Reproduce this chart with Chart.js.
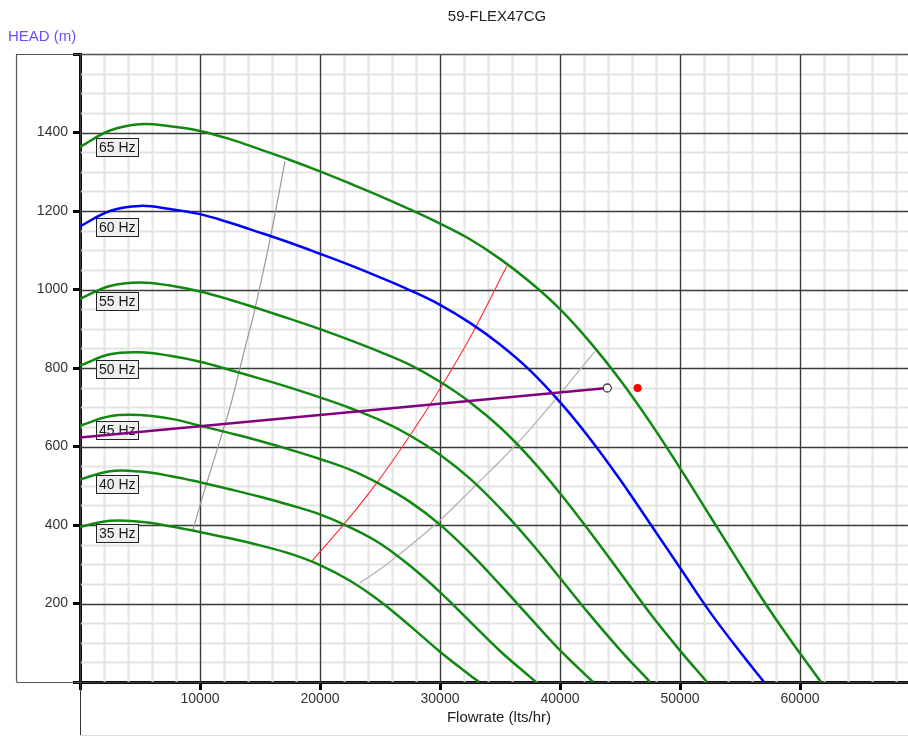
<!DOCTYPE html>
<html>
<head>
<meta charset="utf-8">
<script src="https://cdn.jsdelivr.net/npm/chart.js@4.4.0/dist/chart.umd.min.js"></script>
<style>
html,body{margin:0;padding:0;background:#ffffff;}
#wrap{width:908px;height:736px;position:relative;overflow:hidden;}
</style>
</head>
<body>
<div id="wrap"><canvas id="c" width="908" height="736"></canvas></div>
<script>
// ---------- texts ----------
const chartTitle = '59-FLEX47CG';
const yAxisTitle = 'HEAD (m)';
const xAxisTitle = 'Flowrate (lts/hr)';

// ---------- axis ticks ----------
const xTickLabels = [10000, 20000, 30000, 40000, 50000, 60000];
const yTickLabels = [200, 400, 600, 800, 1000, 1200, 1400];

// ---------- pump curves (flow lts/hr, head m) ----------
const hz35Q = [0, 2500, 5000, 7500, 10000, 12500, 15000, 17500, 20000, 22500, 25000, 27500, 30000, 32500, 33250];
const hz35H = [395, 411, 408, 397, 382, 366, 348, 327, 298, 258, 206, 143, 77, 17, 0];

const hz40Q = [0, 2500, 5000, 7500, 10000, 12500, 15000, 17500, 20000, 22500, 25000, 27500, 30000, 32500, 35000, 37500, 38000];
const hz40H = [516, 537, 536, 525, 509, 491, 472, 451, 427, 394, 353, 296, 229, 154, 79, 13, 0];

const hz45Q = [0, 2500, 5000, 7500, 10000, 12500, 15000, 17500, 20000, 22500, 25000, 27500, 30000, 32500, 35000, 37500, 40000, 42750];
const hz45H = [653, 677, 680, 671, 653, 634, 614, 592, 568, 541, 504, 459, 401, 329, 248, 164, 81, 0];

const hz50Q = [0, 2500, 5000, 7500, 10000, 12500, 15000, 17500, 20000, 22500, 25000, 27500, 30000, 32500, 35000, 37500, 40000, 42500, 45000, 47500];
const hz50H = [806, 835, 840, 831, 816, 795, 773, 750, 725, 698, 667, 628, 579, 518, 443, 358, 265, 171, 82, 0];

const hz55Q = [0, 2500, 5000, 7500, 10000, 12500, 15000, 17500, 20000, 22500, 25000, 27500, 30000, 32500, 35000, 37500, 40000, 42500, 45000, 47500, 50000, 52250];
const hz55H = [976, 1009, 1018, 1010, 995, 974, 950, 925, 899, 871, 841, 808, 765, 713, 649, 571, 481, 382, 279, 175, 80, 0];

const hz60Q = [0, 2500, 5000, 7500, 10000, 12500, 15000, 17500, 20000, 22500, 25000, 27500, 30000, 32500, 35000, 37500, 40000, 42500, 45000, 47500, 50000, 52500, 55000, 57000];
const hz60H = [1161, 1200, 1213, 1205, 1192, 1170, 1145, 1119, 1091, 1062, 1031, 998, 961, 915, 860, 794, 713, 620, 516, 404, 291, 178, 77, 0];

const hz65Q = [0, 2500, 5000, 7500, 10000, 12500, 15000, 17500, 20000, 22500, 25000, 27500, 30000, 32500, 35000, 37500, 40000, 42500, 45000, 47500, 50000, 52500, 55000, 57500, 60000, 61750];
const hz65H = [1363, 1405, 1421, 1416, 1404, 1383, 1357, 1330, 1301, 1270, 1238, 1204, 1168, 1128, 1078, 1019, 950, 866, 770, 662, 545, 423, 301, 182, 73, 0];

const hzLabels = ['35 Hz', '40 Hz', '45 Hz', '50 Hz', '55 Hz', '60 Hz', '65 Hz'];
// flow at which each label box is pinned to its curve
const labelFlow = 1300;

// ---------- system / limit lines ----------
const leftLimitQ = [9400, 10000, 11940, 12500, 13890, 14440, 15970, 17080];
const leftLimitH = [386, 450, 643, 700, 868, 933, 1148, 1327];

const redLineQ = [19300, 22000, 24700, 27500, 30000, 32500, 35560];
const redLineH = [307, 402, 506, 628, 747, 877, 1059];

const rightLimitQ = [23300, 25000, 26400, 30000, 33000, 36400, 39600, 42900];
const rightLimitH = [252, 287, 320, 412, 502, 607, 719, 842];

const dutyLineQ = [0, 43940];
const dutyLineH = [623, 749];

const dutyPointQ = [46470];
const dutyPointH = [749];

// ---------- helpers ----------
const pts = (q, h) => q.map((v, i) => ({x: v, y: h[i]}));
const FONT = '"Liberation Sans", Arial, sans-serif';
const GREEN = '#128812';

const pumpCurves = [
  {q: hz35Q, h: hz35H, c: GREEN},
  {q: hz40Q, h: hz40H, c: GREEN},
  {q: hz45Q, h: hz45H, c: GREEN},
  {q: hz50Q, h: hz50H, c: GREEN},
  {q: hz55Q, h: hz55H, c: GREEN},
  {q: hz60Q, h: hz60H, c: '#0000ff'},
  {q: hz65Q, h: hz65H, c: GREEN}
];

const datasets = [];
datasets.push({
  label: 'duty', data: pts(dutyLineQ, dutyLineH), showLine: true,
  borderColor: '#800080', borderWidth: 2.5,
  pointRadius: [0, 4], pointBackgroundColor: '#ffffff', pointBorderColor: '#444444', pointBorderWidth: 1.3,
  pointHoverRadius: 0
});
datasets.push({
  label: 'point', data: pts(dutyPointQ, dutyPointH), showLine: false,
  pointRadius: 4, pointBackgroundColor: '#ff0000', pointBorderColor: '#ff0000', pointBorderWidth: 0
});
pumpCurves.forEach((c, i) => datasets.push({
  label: hzLabels[i], data: pts(c.q, c.h), showLine: true,
  borderColor: c.c, borderWidth: 2.5, pointRadius: 0, tension: 0.4
}));
datasets.push({
  label: 'red', data: pts(redLineQ, redLineH), showLine: true,
  borderColor: '#ff2a2a', borderWidth: 1.1, pointRadius: 0, cubicInterpolationMode: 'monotone'
});
datasets.push({
  label: 'leftLimit', data: pts(leftLimitQ, leftLimitH), showLine: true,
  borderColor: '#9a9a9a', borderWidth: 1.2, pointRadius: 0, cubicInterpolationMode: 'monotone'
});
datasets.push({
  label: 'rightLimit', data: pts(rightLimitQ, rightLimitH), showLine: true,
  borderColor: '#b0b0b0', borderWidth: 1.2, pointRadius: 0, cubicInterpolationMode: 'monotone'
});

// ---------- plugins ----------
const gridPlugin = {
  id: 'gridPlugin',
  beforeDatasetsDraw(chart) {
    const {ctx, chartArea: a, scales: {x, y}} = chart;
    ctx.save();
    const vline = (px) => { ctx.beginPath(); ctx.moveTo(px, a.top); ctx.lineTo(px, a.bottom); ctx.stroke(); };
    const hline = (py) => { ctx.beginPath(); ctx.moveTo(a.left, py); ctx.lineTo(a.right, py); ctx.stroke(); };
    // minor
    ctx.strokeStyle = '#e4e4e4'; ctx.lineWidth = 2;
    x.ticks.forEach(t => { if (t.value % 10000 !== 0) vline(Math.round(x.getPixelForValue(t.value)) + 0.5); });
    y.ticks.forEach(t => { if (t.value % 200 !== 0) hline(Math.round(y.getPixelForValue(t.value)) + 0.5); });
    // major
    ctx.strokeStyle = '#3a3a3a'; ctx.lineWidth = 1.4;
    x.ticks.forEach(t => { if (t.value % 10000 === 0) vline(Math.round(x.getPixelForValue(t.value)) + 0.5); });
    y.ticks.forEach(t => { if (t.value % 200 === 0) hline(Math.round(y.getPixelForValue(t.value)) + 0.5); });

    // Hz labels: box top sits on the curve at labelFlow
    ctx.font = '14px ' + FONT;
    ctx.textBaseline = 'middle';
    pumpCurves.forEach((c, i) => {
      const hAt = c.h[0] + (c.h[1] - c.h[0]) * (labelFlow - c.q[0]) / (c.q[1] - c.q[0]);
      const top = Math.round(y.getPixelForValue(hAt)) + 0.5;
      const left = Math.round(x.getPixelForValue(labelFlow)) + 0.5;
      const w = Math.ceil(ctx.measureText(hzLabels[i]).width) + 5;
      const h = 18;
      ctx.fillStyle = '#efefef';
      ctx.fillRect(left, top, w, h);
      ctx.strokeStyle = '#222'; ctx.lineWidth = 1;
      ctx.strokeRect(left, top, w, h);
      ctx.fillStyle = '#1a1a1a';
      ctx.fillText(hzLabels[i], left + 2.5, top + h / 2 + 1);
    });
    ctx.restore();
  },
  afterDraw(chart) {
    const {ctx, chartArea: a} = chart;
    ctx.save();
    ctx.strokeStyle = '#555'; ctx.lineWidth = 1.2;
    ctx.beginPath();
    ctx.moveTo(16.5, a.bottom); ctx.lineTo(16.5, a.top + 0.5); ctx.lineTo(a.right, a.top + 0.5);
    ctx.moveTo(16.5, a.bottom + 0.5); ctx.lineTo(a.left, a.bottom + 0.5);
    ctx.stroke();
    // y axis extension below
    ctx.strokeStyle = '#333'; ctx.lineWidth = 1;
    ctx.beginPath(); ctx.moveTo(a.left + 0.5, a.bottom); ctx.lineTo(a.left + 0.5, 736); ctx.stroke();
    ctx.strokeStyle = '#dddddd';
    ctx.beginPath(); ctx.moveTo(a.left, 735.5); ctx.lineTo(a.right, 735.5); ctx.stroke();
    // titles
    ctx.font = '15px ' + FONT;
    ctx.textBaseline = 'middle';
    ctx.textAlign = 'center';
    ctx.fillStyle = '#222';
    ctx.fillText(chartTitle, 497, 17);
    ctx.fillText(xAxisTitle, 499, 718);
    ctx.textAlign = 'left';
    ctx.fillStyle = '#6a50ff';
    ctx.fillText(yAxisTitle, 8, 37);
    ctx.restore();
  }
};

const xTickValues = [];
for (let v = 0; v <= 68000; v += 2000) xTickValues.push(v);
const yTickValues = [];
for (let v = 0; v <= 1600; v += 50) yTickValues.push(v);

new Chart(document.getElementById('c'), {
  type: 'scatter',
  data: {datasets},
  options: {
    responsive: false,
    animation: false,
    events: [],
    layout: {autoPadding: false, padding: {top: 54, left: 0, right: 0, bottom: 0}},
    plugins: {legend: {display: false}, tooltip: {enabled: false}, title: {display: false}},
    scales: {
      x: {
        type: 'linear', min: 0, max: 69000,
        afterBuildTicks: (s) => { s.ticks = xTickValues.map(v => ({value: v})); },
        afterFit: (s) => { s.height = 54; s.paddingLeft = 0; s.paddingRight = 0; },
        ticks: {
          autoSkip: false, maxRotation: 0, minRotation: 0, padding: 1,
          color: '#333', font: {size: 14, family: FONT},
          callback: (v) => xTickLabels.includes(v) ? String(v) : ''
        },
        grid: {
          drawOnChartArea: false, drawTicks: true, tickLength: 8,
          tickColor: (c) => (c.tick && c.tick.value % 10000 === 0) ? '#000' : 'rgba(0,0,0,0)',
          tickWidth: 3
        },
        border: {display: true, color: '#000', width: 3}
      },
      y: {
        type: 'linear', min: 0, max: 1600,
        afterBuildTicks: (s) => { s.ticks = yTickValues.map(v => ({value: v})); },
        afterFit: (s) => { s.width = 80; s.paddingTop = 0; s.paddingBottom = 0; },
        ticks: {
          autoSkip: false, padding: 5,
          color: '#333', font: {size: 14, family: FONT},
          callback: (v) => yTickLabels.includes(v) ? String(v) : ''
        },
        grid: {
          drawOnChartArea: false, drawTicks: true, tickLength: 7,
          tickColor: (c) => (c.tick && c.tick.value % 200 === 0) ? '#000' : 'rgba(0,0,0,0)',
          tickWidth: 3
        },
        border: {display: true, color: '#000', width: 3}
      }
    }
  },
  plugins: [gridPlugin]
});
</script>
</body>
</html>
